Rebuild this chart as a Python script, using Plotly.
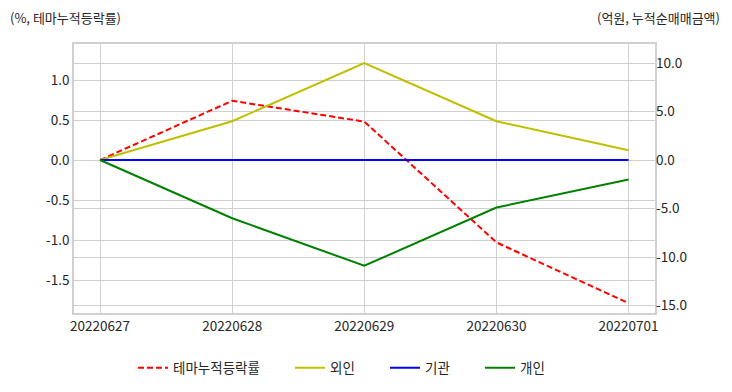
import plotly.graph_objects as go

dates = ["20220627", "20220628", "20220629", "20220630", "20220701"]
theme_rate = [0.0, 0.74, 0.48, -1.03, -1.79]
foreign = [0.0, 4.0, 10.0, 4.0, 1.0]
institution = [0.0, 0.0, 0.0, 0.0, 0.0]
individual = [0.0, -6.0, -10.9, -4.9, -2.0]

left_ticks = [1.0, 0.5, 0.0, -0.5, -1.0, -1.5]
right_ticks = [10.0, 5.0, 0.0, -5.0, -10.0, -15.0]

FONT = "Noto Sans CJK KR"
TXT = "#262626"
GRID = "#d0d0d0"
FS = 13.5
xs = list(range(len(dates)))

fig = go.Figure()
fig.add_trace(go.Scatter(x=xs, y=theme_rate, name="테마누적등락률", mode="lines",
                         line=dict(color="#ff0000", width=2, dash="6px,3px"), yaxis="y",
                         legend="legend"))
fig.add_trace(go.Scatter(x=xs, y=foreign, name="외인", mode="lines",
                         line=dict(color="#bfbf00", width=2), yaxis="y2", legend="legend2"))
fig.add_trace(go.Scatter(x=xs, y=institution, name="기관", mode="lines",
                         line=dict(color="#0000ff", width=2), yaxis="y2", legend="legend3"))
fig.add_trace(go.Scatter(x=xs, y=individual, name="개인", mode="lines",
                         line=dict(color="#008000", width=2), yaxis="y2", legend="legend4"))

def leg(px):
    return dict(orientation="h", xref="container", x=px / 732, xanchor="left",
                yref="container", y=1 - 368 / 392, yanchor="middle",
                font=dict(size=FS, color=TXT), bgcolor="rgba(0,0,0,0)")

fig.update_layout(
    width=732, height=392,
    margin=dict(l=74, r=77, t=44, b=79, autoexpand=False),
    paper_bgcolor="white", plot_bgcolor="white",
    font=dict(family=FONT, size=FS, color=TXT),
    xaxis=dict(range=[-0.197, 4.2], tickvals=xs, ticktext=dates, showgrid=True,
               gridcolor=GRID, gridwidth=1, showline=True, linecolor=GRID, linewidth=1.5,
               mirror=True, zeroline=False, ticks="", tickfont=dict(size=FS, color=TXT)),
    yaxis=dict(range=[-1.9125, 1.45], tickvals=left_ticks,
               ticktext=["%.1f" % v for v in left_ticks], showgrid=True, gridcolor=GRID,
               showline=True, linecolor=GRID, linewidth=1.5, mirror=True, zeroline=False,
               ticks="", tickfont=dict(size=FS, color=TXT)),
    yaxis2=dict(range=[-15.77, 11.96], tickvals=right_ticks,
                ticktext=["%.1f" % v for v in right_ticks], overlaying="y", side="right",
                showgrid=True, gridcolor=GRID, zeroline=False, showline=False,
                ticks="", tickfont=dict(size=FS, color=TXT)),
    legend=leg(133),
    legend2=leg(290),
    legend3=leg(385),
    legend4=leg(480),
    showlegend=True,
)

fig.add_annotation(text="(%, 테마누적등락률)", xref="paper", yref="paper",
                   x=-0.114, y=1.0, yshift=27, xanchor="left", yanchor="middle",
                   showarrow=False, font=dict(size=13, color=TXT))
fig.add_annotation(text="(억원, 누적순매매금액)", xref="paper", yref="paper",
                   x=1.115, y=1.0, yshift=27, xanchor="right", yanchor="middle",
                   showarrow=False, font=dict(size=13, color=TXT))

fig.write_html("out.html", config={"displayModeBar": False},
               post_script="document.body.style.margin='0';")
